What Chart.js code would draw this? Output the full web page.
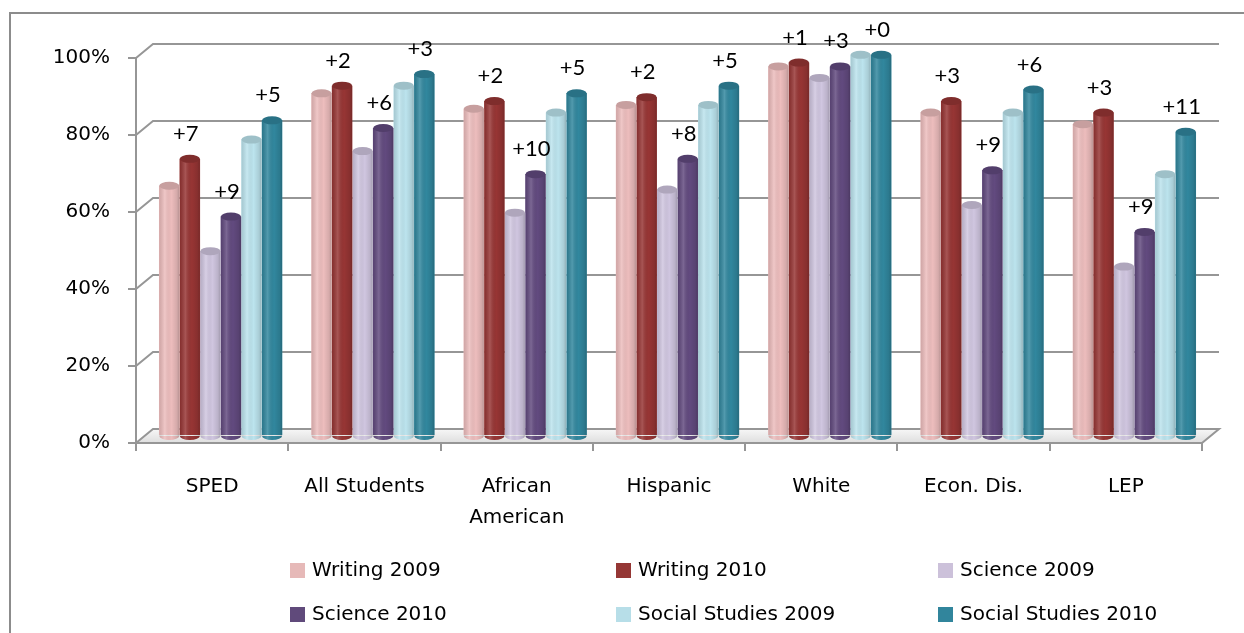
<!DOCTYPE html>
<html>
<head>
<meta charset="utf-8">
<title>Writing, Science and Social Studies 2009 vs 2010</title>
<script src="https://cdn.jsdelivr.net/npm/chart.js@4.4.1/dist/chart.umd.min.js"></script>
<style>
    html, body { margin: 0; padding: 0; background: #fff; }
    #wrap { position: relative; width: 1244px; height: 633px; }
</style>
</head>
<body>
<div id="wrap"><canvas id="scoresChart"></canvas></div>
<script>
// Grupos de alunos
const categories = ['SPED', 'All Students', ['African', 'American'], 'Hispanic', 'White', 'Econ. Dis.', 'LEP'];

// Percentual aprovado por matéria e ano
const writing2009 = [65, 89, 85, 86, 96, 84, 81];
const writing2010 = [72, 91, 87, 88, 97, 87, 84];
const science2009 = [48, 74, 58, 64, 93, 60, 44];
const science2010 = [57, 80, 68, 72, 96, 69, 53];
const social2009 = [77, 91, 84, 86, 99, 84, 68];
const social2010 = [82, 94, 89, 91, 99, 90, 79];

const seriesNames = ['Writing 2009', 'Writing 2010', 'Science 2009', 'Science 2010', 'Social Studies 2009', 'Social Studies 2010'];
const seriesColors = ['#EDBDBD', '#973534', '#D0C6E0', '#624A7F', '#BCE4EE', '#31879E'];
const legendColors = ['#E6B9B8', '#953735', '#CCC1DA', '#604A7B', '#B7DEE8', '#31859C'];
const yTicks = [0, 20, 40, 60, 80, 100];

// profundidade do "3D"
const DX = 17, DY = -14;
const GRID = '#969696';

function shade(hex, f) {
    const n = parseInt(hex.slice(1), 16);
    const r = Math.round(((n >> 16) & 255) * f);
    const g = Math.round(((n >> 8) & 255) * f);
    const b = Math.round((n & 255) * f);
    return `rgb(${r}, ${g}, ${b})`;
}

const wall3d = {
    id: 'wall3d',
    beforeDatasetsDraw(chart) {
        const { ctx, chartArea: a, scales: { y } } = chart;
        ctx.save();
        // piso
        const fg = ctx.createLinearGradient(0, a.bottom + DY, 0, a.bottom);
        fg.addColorStop(0, '#f7f7f7');
        fg.addColorStop(1, '#dedede');
        ctx.beginPath();
        ctx.moveTo(a.left, a.bottom);
        ctx.lineTo(a.left + DX, a.bottom + DY);
        ctx.lineTo(a.right + DX, a.bottom + DY);
        ctx.lineTo(a.right, a.bottom);
        ctx.closePath();
        ctx.fillStyle = fg;
        ctx.fill();
        ctx.strokeStyle = GRID;
        ctx.lineWidth = 2;
        ctx.stroke();
        // linhas de grade na parede do fundo
        ctx.beginPath();
        yTicks.forEach(v => {
            if (v === 0) return;
            const py = y.getPixelForValue(v);
            ctx.moveTo(a.left, py);
            ctx.lineTo(a.left + DX, py + DY);
            ctx.lineTo(a.right + DX, py + DY);
        });
        ctx.stroke();
        ctx.restore();
        ctx.save();
        ctx.translate(DX / 2, DY / 2);
    },
    afterDatasetsDraw(chart) {
        const { ctx } = chart;
        const base = chart.scales.y.getPixelForValue(0);
        chart.data.datasets.forEach((ds, di) => {
            const meta = chart.getDatasetMeta(di);
            meta.data.forEach((bar, i) => {
                const w = bar.width - 0.6, x0 = bar.x - w / 2, rx = w / 2, ry = 4;
                // fundo arredondado
                ctx.beginPath();
                ctx.ellipse(bar.x, base, rx, ry, 0, 0, Math.PI);
                ctx.fillStyle = ds.backgroundColor;
                ctx.fill();
                // sombreamento do cilindro
                const g = ctx.createLinearGradient(x0, 0, x0 + w, 0);
                g.addColorStop(0, 'rgba(0,0,0,0.12)');
                g.addColorStop(0.28, 'rgba(255,255,255,0.16)');
                g.addColorStop(0.6, 'rgba(0,0,0,0)');
                g.addColorStop(0.88, 'rgba(0,0,0,0.1)');
                g.addColorStop(1, 'rgba(0,0,0,0.22)');
                ctx.beginPath();
                ctx.moveTo(x0, bar.y);
                ctx.lineTo(x0, base);
                ctx.ellipse(bar.x, base, rx, ry, 0, Math.PI, 0, true);
                ctx.lineTo(x0 + w, bar.y);
                ctx.closePath();
                ctx.fillStyle = g;
                ctx.fill();
                // tampa
                ctx.beginPath();
                ctx.ellipse(bar.x, bar.y, rx, ry, 0, 0, Math.PI * 2);
                ctx.fillStyle = shade(ds.backgroundColor, 0.84);
                ctx.fill();
            });
        });
        // diferenças 2010 - 2009
        ctx.font = '22px Lato';
        ctx.fillStyle = '#000';
        ctx.textAlign = 'center';
        ctx.textBaseline = 'middle';
        [1, 3, 5].forEach(di => {
            const meta = chart.getDatasetMeta(di);
            const cur = chart.data.datasets[di].data;
            const prev = chart.data.datasets[di - 1].data;
            meta.data.forEach((bar, i) => {
                ctx.fillText('+' + (cur[i] - prev[i]), bar.x - 4, bar.y - 25);
            });
        });
        ctx.restore();
    },
    afterDraw(chart) {
        const { ctx } = chart;
        ctx.save();
        // moldura
        ctx.strokeStyle = '#8c8c8c';
        ctx.lineWidth = 2;
        ctx.beginPath();
        ctx.moveTo(1244, 13);
        ctx.lineTo(10, 13);
        ctx.lineTo(10, 633);
        ctx.stroke();
        // legenda em grade 3 x 2
        const cols = [290, 616, 938], rows = [570, 614];
        ctx.font = '20px "DejaVu Sans"';
        ctx.textAlign = 'left';
        ctx.textBaseline = 'middle';
        seriesNames.forEach((name, i) => {
            const cx = cols[i % 3], cy = rows[Math.floor(i / 3)];
            ctx.fillStyle = legendColors[i];
            ctx.fillRect(cx, cy - 7, 15, 15);
            ctx.fillStyle = '#000';
            ctx.fillText(name, cx + 22, cy + 1);
        });
        ctx.restore();
    }
};

function initChart() {
    Chart.defaults.font.family = '"DejaVu Sans"';
    Chart.defaults.font.size = 20;
    Chart.defaults.color = '#000';

    const ctx = document.getElementById('scoresChart').getContext('2d');
    const values = [writing2009, writing2010, science2009, science2010, social2009, social2010];

    new Chart(ctx, {
        type: 'bar',
        data: {
            labels: categories,
            datasets: values.map((data, i) => ({
                label: seriesNames[i],
                data: data,
                backgroundColor: seriesColors[i],
                borderWidth: 0,
                categoryPercentage: 0.81,
                barPercentage: 1.0,
                clip: false
            }))
        },
        options: {
            responsive: true,
            maintainAspectRatio: false,
            animation: false,
            layout: { padding: { top: 58, right: 42, bottom: 80, left: 0 } },
            scales: {
                x: {
                    grid: { offset: true, drawOnChartArea: false, color: GRID, lineWidth: 2, tickLength: 8 },
                    border: { color: GRID, width: 2 },
                    ticks: { padding: 20, maxRotation: 0, font: { lineHeight: 1.55 } },
                    afterFit: s => { s.height = 110; }
                },
                y: {
                    min: 0,
                    max: 100,
                    grid: { drawOnChartArea: false, color: GRID, lineWidth: 2, tickLength: 8 },
                    border: { color: GRID, width: 2 },
                    ticks: { stepSize: 20, padding: 18, callback: v => v + '%' },
                    afterFit: s => { s.width = 136; }
                }
            },
            plugins: {
                legend: { display: false },
                tooltip: { enabled: false }
            }
        },
        plugins: [wall3d]
    });
}

document.addEventListener('DOMContentLoaded', initChart);
</script>
</body>
</html>
